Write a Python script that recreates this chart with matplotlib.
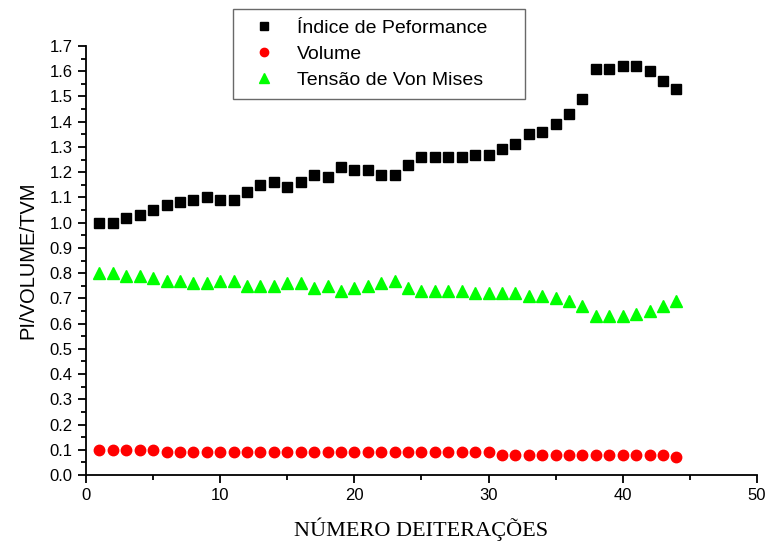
import numpy as np
import matplotlib
matplotlib.use('Agg')
import matplotlib.pyplot as plt
from matplotlib.ticker import MultipleLocator

# iteration numbers
iteracoes = np.arange(1, 45)

# indice de performance
pi_vals = [1.00, 1.00, 1.02, 1.03, 1.05, 1.07, 1.08, 1.09, 1.10, 1.09,
           1.09, 1.12, 1.15, 1.16, 1.14, 1.16, 1.19, 1.18, 1.22, 1.21,
           1.21, 1.19, 1.19, 1.23, 1.26, 1.26, 1.26, 1.26, 1.27, 1.27,
           1.29, 1.31, 1.35, 1.36, 1.39, 1.43, 1.49, 1.61, 1.61, 1.62,
           1.62, 1.60, 1.56, 1.53]

# volume
vol_vals = [0.10] * 5 + [0.09] * 25 + [0.08] * 13 + [0.07]

# tensao de von mises
tvm_vals = [0.80, 0.80, 0.79, 0.79, 0.78, 0.77, 0.77, 0.76, 0.76, 0.77,
            0.77, 0.75, 0.75, 0.75, 0.76, 0.76, 0.74, 0.75, 0.73, 0.74,
            0.75, 0.76, 0.77, 0.74, 0.73, 0.73, 0.73, 0.73, 0.72, 0.72,
            0.72, 0.72, 0.71, 0.71, 0.70, 0.69, 0.67, 0.63, 0.63, 0.63,
            0.64, 0.65, 0.67, 0.69]

plt.rcParams['font.family'] = ['Liberation Sans', 'DejaVu Sans']

fig = plt.figure(figsize=(7.7, 5.43), dpi=100)
ax = fig.add_axes([0.1117, 0.1252, 0.8713, 0.7901])

ax.plot(iteracoes, pi_vals, 's', color='black', markersize=7.5, label='Índice de Peformance')
ax.plot(iteracoes, vol_vals, 'o', color='red', markersize=7.5, label='Volume')
ax.plot(iteracoes, tvm_vals, '^', color='#00ff00', markersize=8.5, label='Tensão de Von Mises')

ax.set_xlim(0, 50)
ax.set_ylim(0, 1.7)
ax.xaxis.set_major_locator(MultipleLocator(10))
ax.xaxis.set_minor_locator(MultipleLocator(5))
ax.yaxis.set_major_locator(MultipleLocator(0.1))
ax.yaxis.set_minor_locator(MultipleLocator(0.05))
ax.yaxis.set_major_formatter(matplotlib.ticker.FormatStrFormatter('%.1f'))

ax.spines['top'].set_visible(False)
ax.spines['right'].set_visible(False)
ax.spines['left'].set_linewidth(1.3)
ax.spines['bottom'].set_linewidth(1.3)
ax.tick_params(which='major', direction='out', length=6, width=1.3, labelsize=12)
ax.tick_params(which='minor', direction='out', length=3.5, width=1.3)

ax.set_ylabel('PI/VOLUME/TVM', fontsize=14.5, labelpad=9)
ax.set_xlabel('NÚMERO DEITERAÇÕES', fontsize=16, family='Liberation Serif', labelpad=10)

# legend box spans roughly x 233-525 px, y 9-95 px
leg = fig.legend(loc='upper left', bbox_to_anchor=(0.3026, 0.983, 0.379, 0.0),
                 mode='expand', fontsize=14, markerscale=0.8,
                 frameon=True, fancybox=False, edgecolor='#444444',
                 handletextpad=0.6, borderpad=0.5, labelspacing=0.45,
                 handlelength=2.2, borderaxespad=0)
leg.get_frame().set_linewidth(1.0)

plt.savefig('out.png', dpi=100)
